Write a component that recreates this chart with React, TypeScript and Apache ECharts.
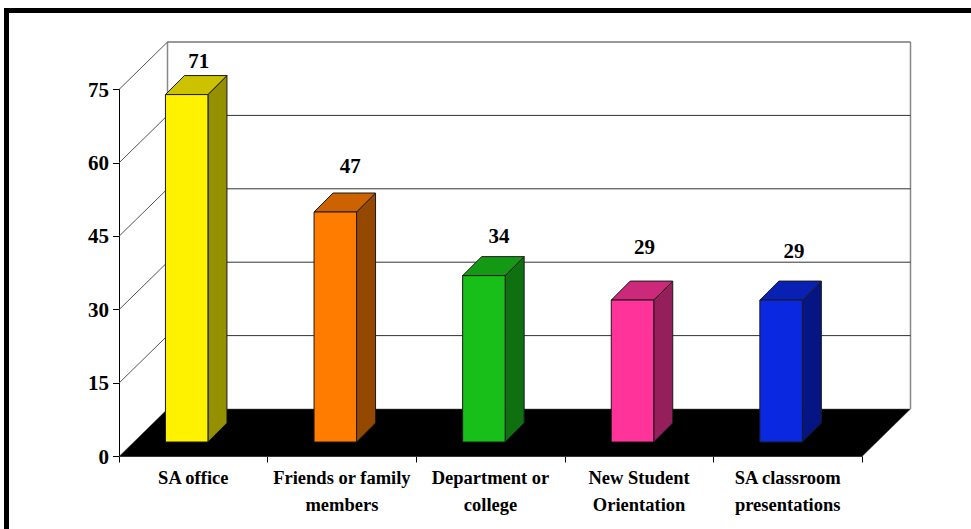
import React, { useEffect, useRef } from "react";
import * as echarts from "echarts";

const categories = [
  "SA office",
  "Friends or family\nmembers",
  "Department or\ncollege",
  "New Student\nOrientation",
  "SA classroom\npresentations",
];
const values = [71, 47, 34, 29, 29];
const yTicks = [0, 15, 30, 45, 60, 75];
const frontColors = ["#FFF200", "#FF7C00", "#19BF19", "#FF3399", "#0A28E0"];
const topColors = ["#CCC200", "#CC6300", "#139913", "#CC297A", "#0820B3"];
const sideColors = ["#959000", "#954800", "#0E700E", "#951F5A", "#051583"];
// label nudges relative to the bar's centre/top (layout only)
const labelNudgeX = [12, 15, 15, 12, 13];
const labelNudgeY = [-33.5, -46.5, -40, -53.5, -49.5];

const FONT = "'Liberation Serif', 'Times New Roman', serif";
const WALL_DX = 48.5;
const WALL_DY = -47.5;
const BAR_SHIFT_X = -6.6;
const BAR_RAISE = -14.5;
const BAR_WIDTH = 42.5;
const SIDE_DX = 19;
const SIDE_DY = -19;

export default function App() {
  const ref = useRef<HTMLDivElement>(null);
  useEffect(() => {
    document.body.style.margin = "0";
    const chart = echarts.init(ref.current!, null, { renderer: "svg" });
    chart.setOption({
      animation: false,
      backgroundColor: "#ffffff",
      graphic: [
        { type: "rect", z: 10, shape: { x: 4, y: 8, width: 967, height: 5 }, style: { fill: "#000" } },
        { type: "rect", z: 10, shape: { x: 4, y: 8, width: 5, height: 521 }, style: { fill: "#000" } },
      ],
      grid: { left: 119, top: 89.5, width: 743, height: 367 },
      xAxis: {
        type: "category",
        data: categories,
        boundaryGap: true,
        axisLine: { show: true, lineStyle: { color: "#333", width: 1 } },
        axisTick: { show: true, alignWithLabel: false, length: 6, lineStyle: { color: "#000" } },
        axisLabel: {
          interval: 0,
          margin: 8,
          color: "#000",
          fontFamily: FONT,
          fontWeight: "bold",
          fontSize: 18.5,
          lineHeight: 27,
        },
        splitLine: { show: false },
      },
      yAxis: {
        type: "value",
        min: 0,
        max: 75,
        interval: 15,
        axisLine: { show: true, lineStyle: { color: "#000", width: 1 } },
        axisTick: { show: true, length: 6, lineStyle: { color: "#000" } },
        axisLabel: {
          margin: 10,
          color: "#000",
          fontFamily: FONT,
          fontWeight: "bold",
          fontSize: 21,
        },
        splitLine: { show: false },
      },
      series: [
        {
          type: "custom",
          coordinateSystem: "cartesian2d",
          silent: true,
          clip: false,
          z: 1,
          encode: { y: 0 },
          data: yTicks.map((t) => [t]),
          renderItem: (params: any, api: any) => {
            const v = api.value(0);
            const cs = params.coordSys;
            const y = api.coord([0, v])[1];
            const x0 = cs.x;
            const x1 = cs.x + cs.width;
            const children: any[] = [];
            const isBase = v === 0;
            const isTop = v === yTicks[yTicks.length - 1];
            if (isBase) {
              children.push({
                type: "polygon",
                shape: {
                  points: [
                    [x0, y],
                    [x1, y],
                    [x1 + WALL_DX, y + WALL_DY],
                    [x0 + WALL_DX, y + WALL_DY],
                  ],
                },
                style: { fill: "#000", stroke: "#555", lineWidth: 0.5 },
              });
              children.push({
                type: "line",
                shape: { x1: x0 + WALL_DX, y1: y + WALL_DY, x2: x0 + WALL_DX, y2: y + WALL_DY + (cs.y - y) },
                style: { stroke: "#888", lineWidth: 1.5 },
              });
              children.push({
                type: "line",
                shape: { x1: x1 + WALL_DX, y1: y + WALL_DY, x2: x1 + WALL_DX, y2: y + WALL_DY + (cs.y - y) },
                style: { stroke: "#888", lineWidth: 1.5 },
              });
            } else {
              children.push({
                type: "line",
                shape: { x1: x0, y1: y, x2: x0 + WALL_DX, y2: y + WALL_DY },
                style: { stroke: "#555", lineWidth: 1 },
              });
              children.push({
                type: "line",
                shape: { x1: x0 + WALL_DX, y1: y + WALL_DY, x2: x1 + WALL_DX, y2: y + WALL_DY },
                style: { stroke: isTop ? "#777" : "#333", lineWidth: isTop ? 1.5 : 1 },
              });
            }
            return { type: "group", children };
          },
        },
        {
          type: "custom",
          coordinateSystem: "cartesian2d",
          clip: false,
          z: 2,
          encode: { x: 0, y: 1 },
          data: values.map((v, i) => [i, v]),
          renderItem: (params: any, api: any) => {
            const i = api.value(0);
            const v = api.value(1);
            const top = api.coord([i, v]);
            const base = api.coord([i, 0]);
            const l = top[0] + BAR_SHIFT_X - BAR_WIDTH / 2;
            const r = l + BAR_WIDTH;
            const t = top[1] + BAR_RAISE;
            const b = base[1] + BAR_RAISE;
            const stroke = { stroke: "#1a1a1a", lineWidth: 1, lineJoin: "round" };
            return {
              type: "group",
              children: [
                {
                  type: "polygon",
                  shape: { points: [[r, t], [r + SIDE_DX, t + SIDE_DY], [r + SIDE_DX, b + SIDE_DY], [r, b]] },
                  style: { fill: sideColors[i], ...stroke },
                },
                {
                  type: "polygon",
                  shape: { points: [[l, t], [l + SIDE_DX, t + SIDE_DY], [r + SIDE_DX, t + SIDE_DY], [r, t]] },
                  style: { fill: topColors[i], ...stroke },
                },
                {
                  type: "rect",
                  shape: { x: l, y: t, width: BAR_WIDTH, height: b - t },
                  style: { fill: frontColors[i], ...stroke },
                },
                {
                  type: "text",
                  x: l + BAR_WIDTH / 2 + labelNudgeX[i],
                  y: t + labelNudgeY[i],
                  style: {
                    text: String(v),
                    fill: "#000",
                    font: `bold 21px ${FONT}`,
                    align: "center",
                    verticalAlign: "middle",
                  },
                },
              ],
            };
          },
        },
      ],
    });
    return () => chart.dispose();
  }, []);
  return <div ref={ref} style={{ width: 971, height: 529 }} />;
}
